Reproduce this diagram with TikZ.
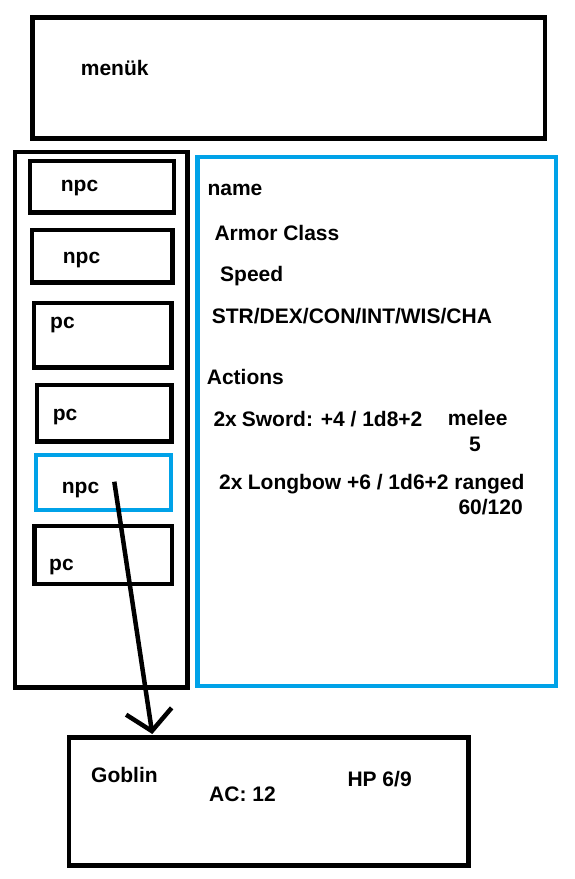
\documentclass[tikz,border=0pt]{standalone}
\usepackage{fontspec}
\setmainfont{Liberation Sans}
\usetikzlibrary{arrows.meta}
\definecolor{paintblue}{RGB}{0,162,232}

\begin{document}
\begin{tikzpicture}[x=1pt,y=-1pt,
box/.style={draw,line width=4.5pt,inner sep=0pt},
bluebox/.style={box,draw=paintblue},
txt/.style={anchor=base west,inner sep=0pt,font=\fontsize{21}{25}\selectfont\bfseries}]
\useasboundingbox (0,0) rectangle (575,879);
\node[box,minimum width=512.5pt,minimum height=121pt] (menu) at (288.75,78) {};
\node[box,minimum width=172.5pt,minimum height=535.5pt] (list) at (101.25,419.75) {};
\node[box,minimum width=144pt,minimum height=51.5pt] (npc1) at (102,186.75) {};
\node[box,minimum width=140.5pt,minimum height=52.5pt] (npc2) at (102.25,256.25) {};
\node[box,minimum width=137.5pt,minimum height=64.5pt] (pc3) at (102.75,335.25) {};
\node[box,minimum width=134.7pt,minimum height=56.7pt] (pc4) at (104.15,413.15) {};
\node[bluebox,minimum width=135pt,minimum height=55pt] (npc5) at (103.3,482.7) {};
\node[box,minimum width=137.3pt,minimum height=58.4pt] (pc6) at (103.15,555) {};
\node[bluebox,minimum width=358.5pt,minimum height=529pt] (stats) at (376.75,421.5) {};
\node[box,minimum width=399.5pt,minimum height=128pt] (goblin) at (268.75,801.5) {};

\node[txt] (menutxt) at (80.7,75.7) {menük};
\node[txt] (npc1txt) at (60.7,191) {npc};
\node[txt] (npc2txt) at (62.7,263.3) {npc};
\node[txt] (pc3txt) at (50,328.3) {pc};
\node[txt] (pc4txt) at (52.7,420) {pc};
\node[txt] (npc5txt) at (61.7,493.3) {npc};
\node[txt] (pc6txt) at (49,570) {pc};

\node[txt] (name) at (207.3,195) {name};
\node[txt] (ac) at (214.3,240) {Armor Class};
\node[txt] (speed) at (220,281.5) {Speed};
\node[txt] (abil) at (211.7,323.3) {STR/DEX/CON/INT/WIS/CHA};
\node[txt] (actions) at (206.7,384.3) {Actions};
\node[txt] (sw2x) at (213.3,426.7) {2x};
\node[txt] (sword) at (241.7,426.7) {Sword: +4 / 1d8+2};
\node[txt] (melee) at (447.7,425) {melee};
\node[txt] (reach) at (469,451) {5};
\node[txt] (bow2x) at (219,489.3) {2x};
\node[txt] (bow) at (247.7,489.3) {Longbow +6 / 1d6+2 ranged};
\node[txt] (range) at (458.3,514.3) {60/120};

\node[txt] (gname) at (91,782.3) {Goblin};
\node[txt] (gac) at (209,801) {AC: 12};
\node[txt] (ghp) at (347.3,786.7) {HP 6/9};

\coordinate (sel) at (114.3,481.7);
\coordinate (drop) at (152.3,734);
\draw[line width=4.5pt,-{Straight Barb[length=20pt,width=46pt]}] (sel) -- (drop);
\end{tikzpicture}
\end{document}
